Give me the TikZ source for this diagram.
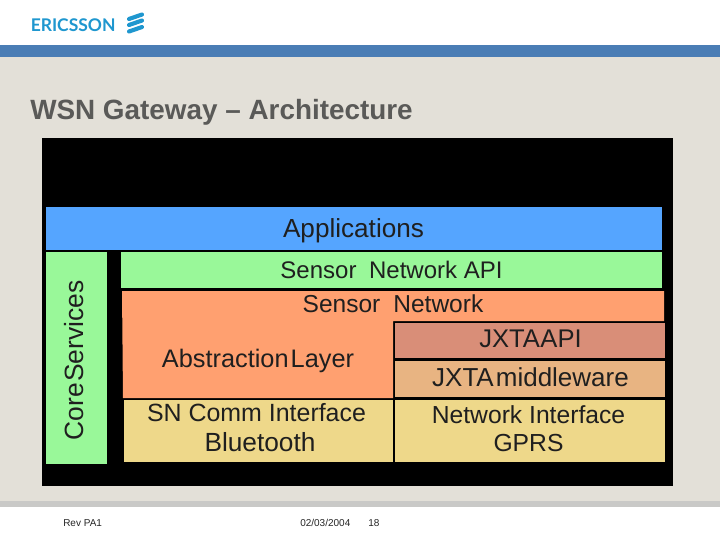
\documentclass[tikz,border=0pt]{standalone}
\usepackage{fontspec}
\setmainfont{Liberation Sans}
\newfontfamily\logofont{Lato}
\definecolor{bgbeige}{HTML}{E3E0D8}
\definecolor{topbar}{HTML}{4A7DB5}
\definecolor{botbar}{HTML}{C9C9C7}
\definecolor{titlegray}{HTML}{5A5A58}
\definecolor{logoblue}{HTML}{1F97CF}
\definecolor{appblue}{HTML}{55A5FF}
\definecolor{lgreen}{HTML}{99F899}
\definecolor{lorange}{HTML}{FFA070}
\definecolor{jxapi}{HTML}{D98E78}
\definecolor{jxmid}{HTML}{E8B482}
\definecolor{lyellow}{HTML}{EED88A}
\newcommand{\fsz}[1]{\fontsize{#1}{#1}\selectfont}
\tikzset{
  x=0.75pt,y=-0.75pt,
  lab/.style={inner sep=0pt,anchor=base,text=black!88,font=\fsz{#1}},
  foot/.style={inner sep=0pt,anchor=base west,text=black!85,font=\fsz{7.5}},
  stripe/.style={line width=3.1pt,line cap=round,logoblue}
}
\begin{document}
\begin{tikzpicture}
\useasboundingbox (0,0) rectangle (720,540);
\fill[white] (0,0) rectangle (720,540);
\fill[topbar] (0,45) rectangle (720,57);
\fill[bgbeige] (0,57) rectangle (720,502);
\fill[botbar] (0,501) rectangle (720,507);
% logo
\node[inner sep=0pt,anchor=base west,text=logoblue,font=\fsz{13.1}\logofont\bfseries] (logo) at (30.5,31) {ERICSSON};
\draw[stripe] (129,19) -- (142,14.5);
\draw[stripe] (129,25) -- (142,20.5);
\draw[stripe] (129,31.5) -- (142,27);
% title
\node[inner sep=0pt,anchor=base west,text=titlegray,font=\fsz{20.9}\bfseries] (title) at (30,119) {WSN Gateway – Architecture};
% panel
\fill[black] (42,138) rectangle (673,486);
\fill[appblue] (46,207) rectangle (662,250);
\fill[lgreen] (46,252) rectangle (107,464);
\fill[lgreen] (121,252) rectangle (662,288);
\fill[lorange] (122,291) -- (664,291) -- (664,321) -- (393,321) -- (393,398) -- (123,398) -- cycle;
\fill[jxapi] (395,323) rectangle (665,358);
\fill[jxmid] (395,361) rectangle (665,397);
\fill[lyellow] (124,400) rectangle (393,462);
\fill[lyellow] (395,400) rectangle (665,462);
% labels
\node[lab=19.6] (apps) at (353.5,237) {Applications};
\node[lab=18] (snapi) at (391.5,278) {Sensor\hspace{0.25em} Network API};
\node[lab=18.4] (sn) at (393,312) {Sensor\hspace{0.25em} Network};
\node[lab=19] (abs) at (258,367) {\spaceskip=0.08em Abstraction Layer};
\node[lab=19.2] (jxapi) at (530.5,347) {\spaceskip=0.02em JXTA API};
\node[lab=19.5] (jxmid) at (530.5,386) {\spaceskip=0.08em JXTA middleware};
\node[lab=18.7] (comm) at (256.5,421) {SN Comm Interface};
\node[lab=19.7] (bt) at (260,451) {Bluetooth};
\node[lab=18.5] (ni) at (528.5,423) {Network Interface};
\node[lab=18.5] (gprs) at (528.5,451) {GPRS};
\node[lab=19.8,rotate=90,anchor=base] (core) at (83,360.5) {\spaceskip=0.05em Core Services};
% footer
\node[foot] (rev) at (63,526) {Rev PA1};
\node[foot] (date) at (300,526) {02/03/2004};
\node[foot] (page) at (368,526) {18};
\end{tikzpicture}
\end{document}
